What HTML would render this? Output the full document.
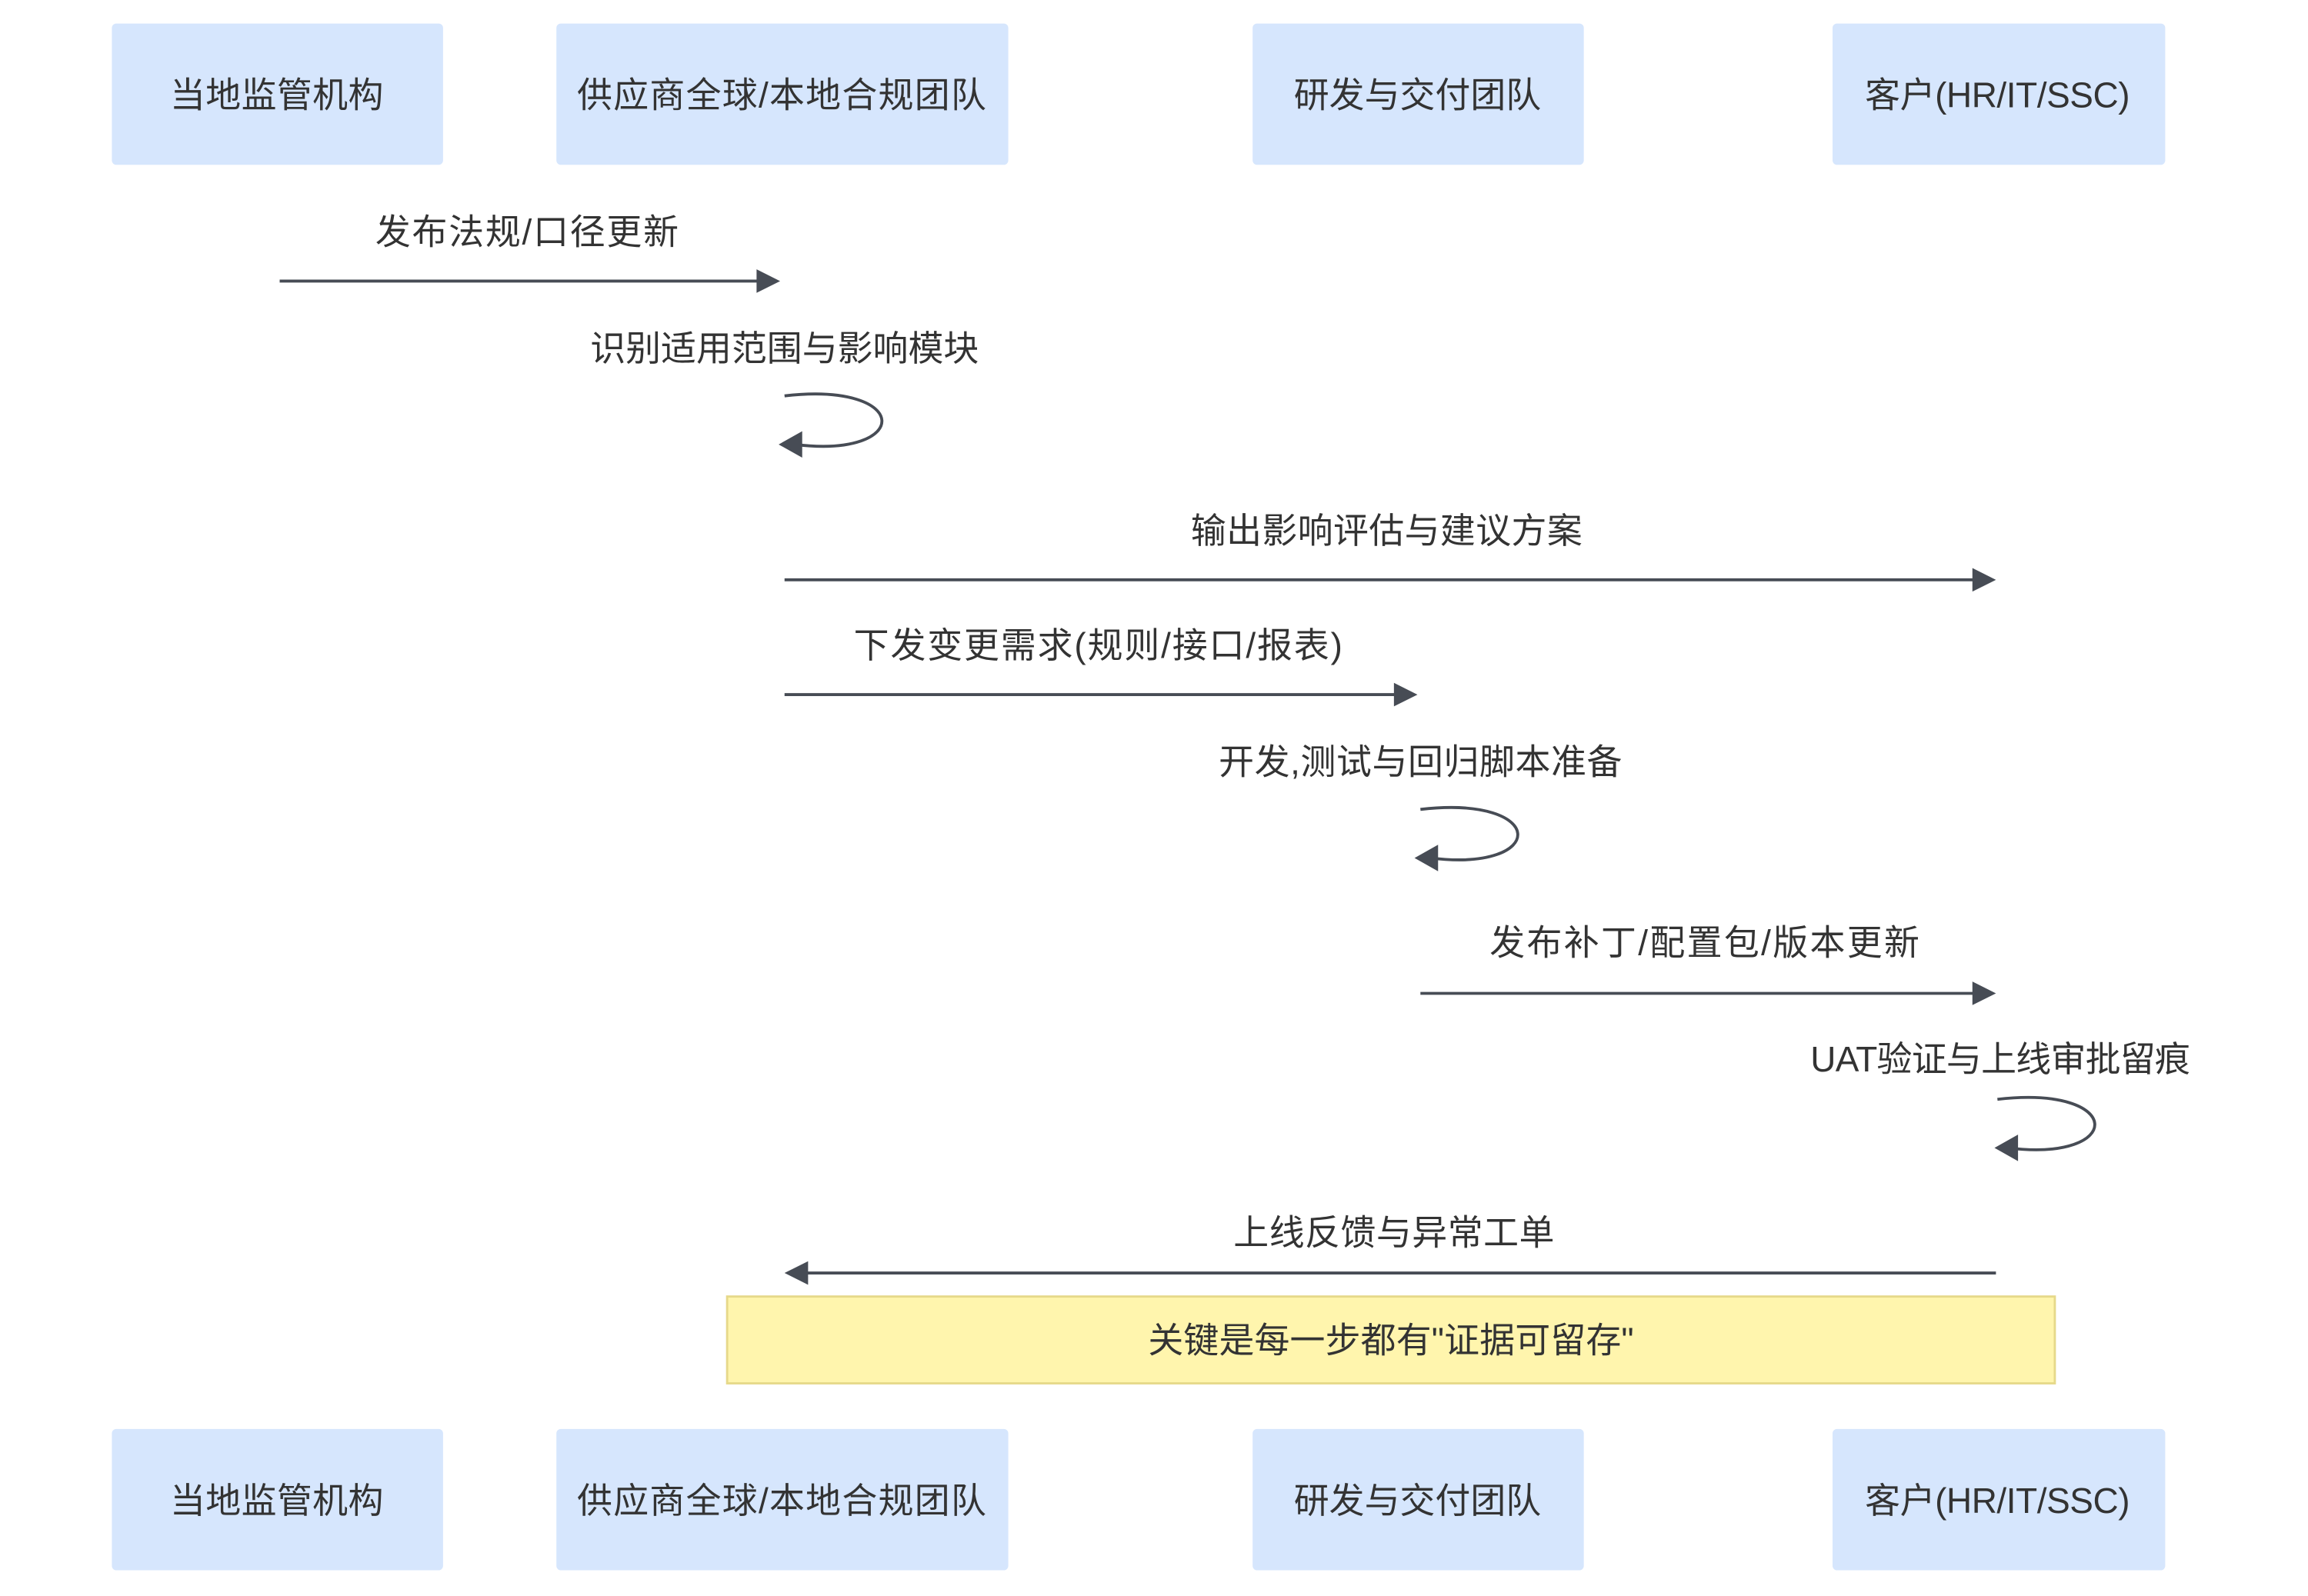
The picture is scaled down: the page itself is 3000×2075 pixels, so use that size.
<!DOCTYPE html>
<html><head><meta charset="utf-8"><style>
html,body{margin:0;padding:0;background:#fff;}
svg{display:block;}
text{font-family:"Liberation Sans","Noto Sans CJK SC",sans-serif;fill:#333;}
</style></head><body>
<svg width="3000" height="2075" viewBox="0 0 1568 1084.5" preserveAspectRatio="none" xmlns="http://www.w3.org/2000/svg">
<g fill="#d6e6fd">
<rect x="76" y="16" width="225" height="96" rx="3"/>
<rect x="378" y="16" width="307" height="96" rx="3"/>
<rect x="851" y="16" width="225" height="96" rx="3"/>
<rect x="1245" y="16" width="226" height="96" rx="3"/>
<rect x="76" y="971" width="225" height="96" rx="3"/>
<rect x="378" y="971" width="307" height="96" rx="3"/>
<rect x="851" y="971" width="225" height="96" rx="3"/>
<rect x="1245" y="971" width="226" height="96" rx="3"/>
</g>
<g font-size="24" text-anchor="middle">
<text x="188" y="73" textLength="145">当地监管机构</text>
<text x="531" y="73" textLength="278">供应商全球/本地合规团队</text>
<text x="963" y="73" textLength="168">研发与交付团队</text>
<text x="1357" y="73" textLength="180">客户(HR/IT/SSC)</text>
<text x="188" y="1028" textLength="145">当地监管机构</text>
<text x="531" y="1028" textLength="278">供应商全球/本地合规团队</text>
<text x="963" y="1028" textLength="168">研发与交付团队</text>
<text x="1357" y="1028" textLength="180">客户(HR/IT/SSC)</text>
</g>
<g font-size="24" text-anchor="middle">
<text x="358" y="166" textLength="206">发布法规/口径更新</text>
<text x="533" y="245" textLength="264">识别适用范围与影响模块</text>
<text x="942" y="369" textLength="266">输出影响评估与建议方案</text>
<text x="746" y="447" textLength="332">下发变更需求(规则/接口/报表)</text>
<text x="965" y="526" textLength="274">开发,测试与回归脚本准备</text>
<text x="1158" y="649" textLength="292">发布补丁/配置包/版本更新</text>
<text x="1359" y="728" textLength="258">UAT验证与上线审批留痕</text>
<text x="947" y="846" textLength="218">上线反馈与异常工单</text>
</g>
<g stroke="#474c55" stroke-width="2" fill="none">
<line x1="190" y1="191" x2="516" y2="191"/>
<line x1="533" y1="394" x2="1342" y2="394"/>
<line x1="533" y1="472" x2="948" y2="472"/>
<line x1="965" y1="675" x2="1342" y2="675"/>
<line x1="1356" y1="865" x2="548" y2="865"/>
<path d="M533,269 C620,259 620,312 540,302"/>
<path d="M965,550 C1052,540 1052,593 972,583"/>
<path d="M1357,747 C1444,737 1444,790 1364,780"/>
</g>
<g fill="#474c55">
<polygon points="530,191 514,183 514,199"/>
<polygon points="1356,394 1340,386 1340,402"/>
<polygon points="963,472 947,464 947,480"/>
<polygon points="1356,675 1340,667 1340,683"/>
<polygon points="533,865 549,857 549,873"/>
<polygon points="529,302 545,293 545,311"/>
<polygon points="961,583 977,574 977,592"/>
<polygon points="1355,780 1371,771 1371,789"/>
</g>
<rect x="494" y="881" width="902" height="59" fill="#fff5ad" stroke="#e6d98a" stroke-width="1.5"/>
<text x="945" y="919" font-size="24" text-anchor="middle" textLength="330">关键是每一步都有"证据可留存"</text>
</svg>
</body></html>
